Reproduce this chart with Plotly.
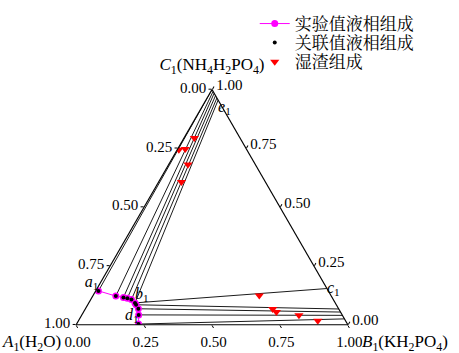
import plotly.graph_objects as go

# Component fractions: A = H2O, B = KH2PO4, C = NH4H2PO4
# Experimental liquid phase (a1 ... b1 ... d1)
liq_A = [0.846, 0.793, 0.768, 0.755, 0.743, 0.737, 0.737, 0.737, 0.749, 0.769]
liq_B = [0.010, 0.085, 0.116, 0.132, 0.150, 0.170, 0.178, 0.195, 0.209, 0.228]
liq_C = [0.144, 0.122, 0.116, 0.113, 0.107, 0.093, 0.085, 0.068, 0.042, 0.003]

# Correlated liquid phase
cor_A = [0.846, 0.793, 0.768, 0.755, 0.743, 0.737, 0.737, 0.737, 0.749, 0.769]
cor_B = [0.010, 0.085, 0.116, 0.132, 0.150, 0.170, 0.178, 0.195, 0.209, 0.228]
cor_C = [0.144, 0.122, 0.116, 0.113, 0.107, 0.093, 0.085, 0.068, 0.042, 0.003]

# Wet residue
wet_A = [0.250, 0.225, 0.168, 0.248, 0.309, 0.264, 0.243, 0.236, 0.160, 0.102]
wet_B = [0.006, 0.028, 0.038, 0.071, 0.084, 0.612, 0.690, 0.710, 0.800, 0.881]
wet_C = [0.744, 0.747, 0.794, 0.681, 0.607, 0.124, 0.067, 0.054, 0.040, 0.017]

# Tie lines: index of liquid point -> solid phase composition
tie_liq = [0, 1, 2, 3, 4, 5, 5, 6, 7, 8, 9]
sol_A = [0.0] * 11
sol_B = [0.000, 0.008, 0.016, 0.026, 0.036, 0.045, 0.846, 0.933, 0.946, 0.960, 0.975]
sol_C = [1.000, 0.992, 0.984, 0.974, 0.964, 0.955, 0.154, 0.067, 0.054, 0.040, 0.025]

# Point labels
lab_text = ["<i>a</i><sub>1</sub>", "<i>b</i><sub>1</sub>", "<i>c</i><sub>1</sub>",
            "<i>d</i><sub>1</sub>", "<i>e</i><sub>1</sub>"]
lab_A = [liq_A[0], liq_A[5], 0.0, liq_A[9], 0.0]
lab_B = [liq_B[0], liq_B[5], 0.846, liq_B[9], 0.045]
lab_C = [liq_C[0], liq_C[5], 0.154, liq_C[9], 0.955]
lab_pos = ["top left", "top right", "middle right", "top left", "bottom right"]

tick_vals = [0, 0.25, 0.5, 0.75, 1.0]
tick_text = ["1.00", "0.75", "0.50", "0.25", "0.00"]

title_A = "<i>A</i><sub>1</sub>(H<sub>2</sub>O)"
title_B = "<i>B</i><sub>1</sub>(KH<sub>2</sub>PO<sub>4</sub>)"
title_C = "<i>C</i><sub>1</sub>(NH<sub>4</sub>H<sub>2</sub>PO<sub>4</sub>)"

SERIF = "Liberation Serif, Times New Roman, serif"
CJK = "Liberation Serif, Noto Serif CJK SC, Noto Sans CJK SC, serif"

fig = go.Figure()

# tie lines (plotly a = C, b = A, c = B)
for k, i in enumerate(tie_liq):
    fig.add_trace(go.Scatterternary(
        a=[liq_C[i], sol_C[k]], b=[liq_A[i], sol_A[k]], c=[liq_B[i], sol_B[k]],
        mode="lines", line=dict(color="black", width=0.9),
        showlegend=False, hoverinfo="skip"))

fig.add_trace(go.Scatterternary(
    a=liq_C, b=liq_A, c=liq_B, mode="lines+markers", name="实验值液相组成",
    line=dict(color="#ff00ff", width=1),
    marker=dict(color="#ff00ff", size=7, symbol="circle"), legend="legend"))

fig.add_trace(go.Scatterternary(
    a=cor_C, b=cor_A, c=cor_B, mode="markers", name="关联值液相组成",
    marker=dict(color="black", size=4, symbol="circle"), legend="legend2"))

fig.add_trace(go.Scatterternary(
    a=wet_C, b=wet_A, c=wet_B, mode="markers", name="湿渣组成",
    marker=dict(color="#ff0000", size=8, symbol="triangle-down"), legend="legend3"))

fig.add_trace(go.Scatterternary(
    a=lab_C, b=lab_A, c=lab_B, mode="text", text=lab_text,
    textposition=lab_pos, textfont=dict(family=SERIF, size=16, color="black"),
    cliponaxis=False, showlegend=False, hoverinfo="skip"))


def axis(title):
    return dict(
        title=dict(text=title, font=dict(family=SERIF, size=17, color="black")),
        tickmode="array", tickvals=tick_vals, ticktext=tick_text,
        tickfont=dict(family=SERIF, size=15, color="black"),
        ticks="outside", ticklen=3, tickcolor="black",
        linecolor="black", linewidth=1.2, showgrid=False, min=0)


def leg(y):
    return dict(x=0.555, y=y, xanchor="left", yanchor="middle",
                font=dict(family=CJK, size=17, color="black"),
                bgcolor="rgba(0,0,0,0)", itemwidth=30)


fig.update_layout(
    width=459, height=353,
    margin=dict(l=0, r=0, t=0, b=0),
    paper_bgcolor="white",
    ternary=dict(
        sum=1,
        bgcolor="white",
        domain=dict(x=[0.1656, 0.7582], y=[0.080, 0.7465]),
        aaxis=axis(title_C),
        baxis=axis(""),
        caxis=axis(""),
    ),
    legend=leg(0.932),
    legend2=leg(0.878),
    legend3=leg(0.824),
    showlegend=True,
    annotations=[
        dict(text=title_A, x=0.137, y=0.027, xref="paper", yref="paper",
             xanchor="right", yanchor="middle", showarrow=False,
             font=dict(family=SERIF, size=17, color="black")),
        dict(text=title_B, x=0.785, y=0.027, xref="paper", yref="paper",
             xanchor="left", yanchor="middle", showarrow=False,
             font=dict(family=SERIF, size=17, color="black")),
    ],
)

fig.write_html("out.html")
